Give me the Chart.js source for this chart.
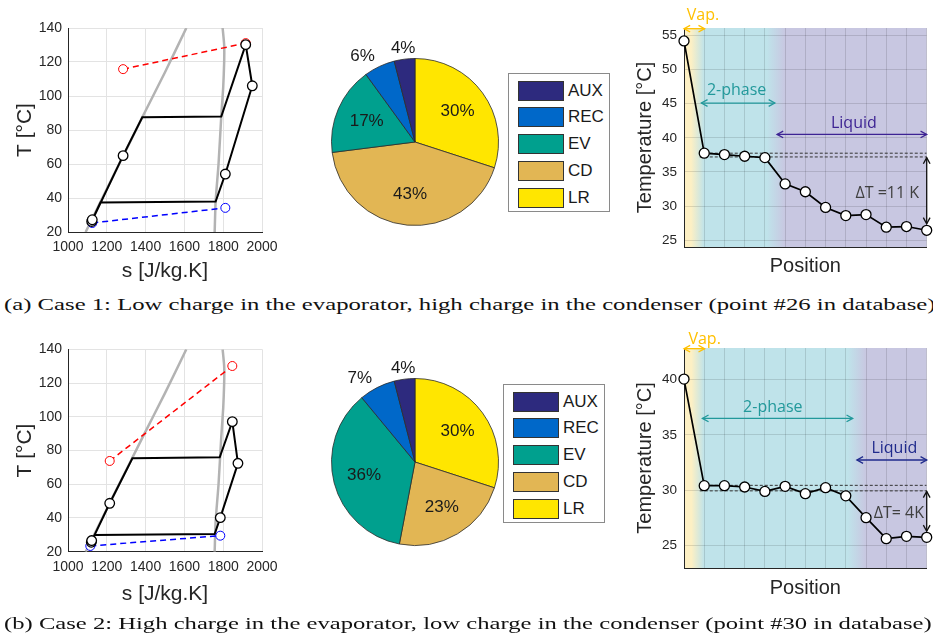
<!DOCTYPE html>
<html>
<head>
<meta charset="utf-8">
<script src="https://cdn.jsdelivr.net/npm/chart.js@4.4.1/dist/chart.umd.min.js"></script>
<style>
  body { margin: 0; background: #fff; }
  #page { position: relative; width: 933px; height: 644px; overflow: hidden; font-family: "Liberation Sans", Arial, sans-serif; color: #1a1a1a; }
  #page canvas { position: absolute; }
  .legend { position: absolute; border: 1px solid #8a8a8a; background: #fff; box-sizing: border-box; }
  .legend .sw { position: absolute; border: 1px solid #333; box-sizing: border-box; width: 46px; height: 20px; }
  .legend .lb { position: absolute; font-size: 17px; line-height: 20px; }
  .caption { position: absolute; left: 4px; font-family: "Liberation Serif", "Times New Roman", serif; font-size: 16.5px; line-height: 16.5px; white-space: nowrap; transform-origin: 0 0; color: #111; }
</style>
</head>
<body>
<div id="page">
  <canvas id="tsA" width="290" height="290" style="left:0;top:0"></canvas>
  <canvas id="pieA" width="240" height="240" style="left:295px;top:22px"></canvas>
  <canvas id="tempA" width="313" height="290" style="left:620px;top:0"></canvas>
  <div id="legA" class="legend" style="left:508px;top:73px;width:102px;height:139px"></div>
  <div id="capA" class="caption" style="top:297px">(a) Case 1: Low charge in the evaporator, high charge in the condenser (point #26 in database)</div>

  <canvas id="tsB" width="290" height="290" style="left:0;top:320px"></canvas>
  <canvas id="pieB" width="240" height="240" style="left:295px;top:342px"></canvas>
  <canvas id="tempB" width="313" height="290" style="left:620px;top:330px"></canvas>
  <div id="legB" class="legend" style="left:503px;top:384px;width:102px;height:139px"></div>
  <div id="capB" class="caption" style="top:616px">(b) Case 2: High charge in the evaporator, low charge in the condenser (point #30 in database)</div>
</div>
<script>
// saturation dome of the working fluid (same in both cases)
const satLiq_s = [1091, 1242, 1383, 1500, 1610];
const satLiq_T = [20, 55, 87.5, 114, 140];
const satVap_s = [1756, 1761, 1776, 1790, 1800, 1805, 1805, 1797];
const satVap_T = [20, 38, 60, 88, 105, 120, 130, 140];

// case 1: cycle in the T-s diagram
const cycA_s = [1125, 1284, 1383, 1790, 1916, 1950, 1811, 1761, 1167, 1125];
const cycA_T = [26.9, 64.9, 87.5, 87.9, 130.2, 106.0, 54.1, 37.9, 37.3, 26.9];
const ptsA_s = [1122, 1125, 1284, 1916, 1950, 1811];
const ptsA_T = [26.2, 27.2, 64.9, 130.2, 106.0, 54.1];
const hotA_s = [1284, 1916];
const hotA_T = [115.8, 131.1];
const coldA_s = [1125, 1811];
const coldA_T = [25.3, 34.2];

// case 2: cycle in the T-s diagram
const cycB_s = [1120, 1215, 1332, 1782, 1847, 1876, 1785, 1756, 1138, 1120];
const cycB_T = [25.8, 48.7, 75.4, 76.0, 97.1, 72.4, 40.2, 30.5, 29.9, 25.8];
const ptsB_s = [1120, 1122, 1215, 1847, 1876, 1785];
const ptsB_T = [25.6, 26.6, 48.7, 97.1, 72.4, 40.2];
const hotB_s = [1215, 1847];
const hotB_T = [73.8, 130.1];
const coldB_s = [1115, 1785];
const coldB_T = [23.4, 29.5];

// charge distribution (%)
const pieLabels = ['LR', 'CD', 'EV', 'REC', 'AUX'];
const pieColors = ['#ffe600', '#e2b654', '#00a08e', '#0068c9', '#2d2a7e'];
const pieA = [30, 43, 17, 6, 4];
const pieB = [30, 23, 36, 7, 4];
const legendOrder = ['AUX', 'REC', 'EV', 'CD', 'LR'];

// condenser temperature profile
const positions = [0, 1, 2, 3, 4, 5, 6, 7, 8, 9, 10, 11, 12];
const tempA = [54.2, 37.75, 37.55, 37.3, 37.1, 33.25, 32.1, 29.8, 28.6, 28.75, 26.9, 27.0, 26.45];
const tempB = [40.05, 30.42, 30.42, 30.3, 29.9, 30.36, 29.7, 30.24, 29.5, 27.53, 25.63, 25.84, 25.75];
const satLinesA = [37.75, 37.2];
const satLinesB = [30.45, 29.95];

// phase zones (position, colour)
const bandsA = [[0, '#fdf0c4'], [0.35, '#fdf0c4'], [1.0, '#bfe3ea'], [4.1, '#bfe3ea'], [5.0, '#c8c7e1'], [12, '#c8c7e1']];
const bandsB = [[0, '#fdf0c4'], [0.37, '#fdf0c4'], [1.0, '#bfe3ea'], [8.1, '#bfe3ea'], [9.0, '#c8c7e1'], [12, '#c8c7e1']];

const arrowsA = [
  {x1: 0, y1: 56.0, x2: 1.02, y2: 56.0, color: '#ffc000'},
  {x1: 0.86, y1: 45.1, x2: 4.49, y2: 45.1, color: '#22999b'},
  {x1: 4.6, y1: 40.5, x2: 12, y2: 40.5, color: '#3d2393'},
  {x1: 12, y1: 37.1, x2: 12, y2: 27.4, color: '#111'}
];
const notesA = [
  {text: 'Vap.', x: 0.94, y: 58.0, color: '#ffc000'},
  {text: '2-phase', x: 2.6, y: 47.0, color: '#22999b'},
  {text: 'Liquid', x: 8.4, y: 42.1, color: '#3d2393'},
  {text: '\u0394T =11 K', x: 10.05, y: 31.85, color: '#404040'}
];
const arrowsB = [
  {x1: 0, y1: 42.8, x2: 1.02, y2: 42.8, color: '#ffc000'},
  {x1: 0.91, y1: 36.5, x2: 8.34, y2: 36.5, color: '#22999b'},
  {x1: 8.55, y1: 32.74, x2: 12, y2: 32.74, color: '#1f2a8c'},
  {x1: 12, y1: 29.9, x2: 12, y2: 26.3, color: '#111'}
];
const notesB = [
  {text: 'Vap.', x: 1.02, y: 43.6, color: '#ffc000'},
  {text: '2-phase', x: 4.39, y: 37.5, color: '#22999b'},
  {text: 'Liquid', x: 10.4, y: 33.8, color: '#1f2a8c'},
  {text: '\u0394T= 4K', x: 10.62, y: 27.93, color: '#404040'}
];

Chart.defaults.font.family = '"Liberation Sans", Arial, sans-serif';
Chart.defaults.color = '#262626';

const pts = (xs, ys) => xs.map((v, i) => ({x: v, y: ys[i]}));

function tsChart(id, cyc, mk, hot, cold, lay) {
  new Chart(document.getElementById(id), {
    type: 'scatter',
    data: {
      datasets: [
        {data: pts(mk.s, mk.T), pointRadius: 4.8, pointBackgroundColor: '#fff', pointBorderColor: '#000', pointBorderWidth: 1.3},
        {data: pts(hot.s, hot.T), showLine: true, borderColor: '#ff0000', borderWidth: 1.5, borderDash: [6, 4],
          pointRadius: 4.5, pointBackgroundColor: '#fff', pointBorderColor: '#ff0000', pointBorderWidth: 1},
        {data: pts(cold.s, cold.T), showLine: true, borderColor: '#0000ff', borderWidth: 1.5, borderDash: [6, 4],
          pointRadius: 4.5, pointBackgroundColor: '#fff', pointBorderColor: '#0000ff', pointBorderWidth: 1},
        {data: pts(cyc.s, cyc.T), showLine: true, borderColor: '#000', borderWidth: 2, pointRadius: 0},
        {data: pts(satLiq_s, satLiq_T), showLine: true, borderColor: '#b3b3b3', borderWidth: 2.5, pointRadius: 0, tension: 0.2},
        {data: pts(satVap_s, satVap_T), showLine: true, borderColor: '#b3b3b3', borderWidth: 2.5, pointRadius: 0, tension: 0.2}
      ]
    },
    options: {
      responsive: false,
      animation: false,
      layout: {padding: {top: lay.top, right: 28, left: 0, bottom: 0}},
      plugins: {legend: {display: false}, tooltip: {enabled: false}},
      scales: {
        x: {
          type: 'linear', min: 1000, max: 2000,
          ticks: {stepSize: 200, autoSkip: false, maxRotation: 0, padding: 7, font: {size: 14}, callback: v => String(v)},
          grid: {color: '#e3e3e3', drawTicks: false},
          border: {color: '#262626'},
          title: {display: true, text: 's [J/kg.K]', font: {size: 21}, padding: {bottom: lay.xTitlePad, top: 0}},
          afterFit: s => { s.height = lay.xH; }
        },
        y: {
          min: 20, max: 140,
          ticks: {stepSize: 20, padding: 6, font: {size: 14}, callback: v => String(v)},
          grid: {color: '#e3e3e3', drawTicks: false},
          border: {color: '#262626'},
          title: {display: true, text: 'T [°C]', font: {size: 21}, padding: {top: 12.4, bottom: 0}},
          afterFit: s => { s.width = 68; }
        }
      }
    }
  });
}

const pieLabelPlugin = {
  id: 'pieLabels',
  afterDatasetsDraw(chart) {
    const {ctx} = chart;
    const vals = chart.data.datasets[0].data;
    ctx.save();
    ctx.font = '17px "Liberation Sans", Arial, sans-serif';
    ctx.fillStyle = '#1a1a1a';
    ctx.textBaseline = 'middle';
    chart.getDatasetMeta(0).data.forEach((arc, i) => {
      const p = arc.getProps(['x', 'y', 'startAngle', 'endAngle', 'outerRadius'], true);
      const mid = (p.startAngle + p.endAngle) / 2;
      const inside = vals[i] >= 10;
      const r = inside ? 0.63 * p.outerRadius : 1.13 * p.outerRadius;
      const cx = Math.cos(mid), cy = Math.sin(mid);
      ctx.textAlign = inside ? 'center' : (cx < -0.3 ? 'right' : 'center');
      ctx.fillText(vals[i] + '%', p.x + r * cx, p.y + r * cy);
    });
    ctx.restore();
  }
};

function pieChart(id, values) {
  new Chart(document.getElementById(id), {
    type: 'pie',
    data: {labels: pieLabels, datasets: [{data: values, backgroundColor: pieColors, borderColor: '#2b2b2b', borderWidth: 0.8, hoverOffset: 0}]},
    options: {
      responsive: false,
      animation: false,
      radius: 83.5,
      plugins: {legend: {display: false}, tooltip: {enabled: false}}
    },
    plugins: [pieLabelPlugin]
  });
}

function legend(id, swLeft, swTop, lbLeft) {
  const box = document.getElementById(id);
  legendOrder.forEach((name, i) => {
    const sw = document.createElement('div');
    sw.className = 'sw';
    sw.style.left = swLeft + 'px';
    sw.style.top = (swTop + i * 26.7) + 'px';
    sw.style.background = pieColors[pieLabels.indexOf(name)];
    const lb = document.createElement('div');
    lb.className = 'lb';
    lb.textContent = name;
    lb.style.left = lbLeft + 'px';
    lb.style.top = (swTop + i * 26.7) + 'px';
    box.appendChild(sw);
    box.appendChild(lb);
  });
}

function bandsPlugin(stops) {
  return {
    id: 'bands',
    beforeDraw(chart) {
      const {ctx, chartArea: a, scales: {x}} = chart;
      const w = a.right - a.left;
      const g = ctx.createLinearGradient(a.left, 0, a.right, 0);
      stops.forEach(([v, c]) => g.addColorStop(Math.min(1, Math.max(0, (x.getPixelForValue(v) - a.left) / w)), c));
      ctx.save();
      ctx.fillStyle = g;
      ctx.fillRect(a.left, a.top, w, a.bottom - a.top);
      ctx.restore();
    }
  };
}

function head(ctx, x, y, ang) {
  const s = 7, spread = 0.5;
  ctx.beginPath();
  ctx.moveTo(x - s * Math.cos(ang - spread), y - s * Math.sin(ang - spread));
  ctx.lineTo(x, y);
  ctx.lineTo(x - s * Math.cos(ang + spread), y - s * Math.sin(ang + spread));
  ctx.stroke();
}

function notesPlugin(arrows, texts) {
  return {
    id: 'notes',
    afterDraw(chart) {
      const {ctx, scales: {x, y}} = chart;
      ctx.save();
      ctx.lineWidth = 1.3;
      arrows.forEach(a => {
        const x1 = x.getPixelForValue(a.x1), y1 = y.getPixelForValue(a.y1);
        const x2 = x.getPixelForValue(a.x2), y2 = y.getPixelForValue(a.y2);
        ctx.strokeStyle = a.color;
        ctx.beginPath();
        ctx.moveTo(x1, y1);
        ctx.lineTo(x2, y2);
        ctx.stroke();
        const ang = Math.atan2(y2 - y1, x2 - x1);
        head(ctx, x2, y2, ang);
        head(ctx, x1, y1, ang + Math.PI);
      });
      ctx.font = '16px "Open Sans", "Liberation Sans", sans-serif';
      ctx.textAlign = 'center';
      ctx.textBaseline = 'middle';
      texts.forEach(t => {
        ctx.fillStyle = t.color;
        ctx.fillText(t.text, x.getPixelForValue(t.x), y.getPixelForValue(t.y));
      });
      ctx.restore();
    }
  };
}

function tempChart(id, temps, sat, yMin, yMax, bands, arrows, notes, lay) {
  const satSets = sat.map(v => ({
    data: [{x: 0.78, y: v}, {x: 12, y: v}], showLine: true, borderColor: '#333', borderWidth: 1,
    borderDash: [3, 2], pointRadius: 0
  }));
  new Chart(document.getElementById(id), {
    type: 'scatter',
    data: {
      datasets: [
        {data: pts(positions, temps), showLine: true, borderColor: '#000', borderWidth: 1.7, clip: 8,
          pointRadius: 5, pointBackgroundColor: '#fff', pointBorderColor: '#000', pointBorderWidth: 1.3},
        ...satSets
      ]
    },
    options: {
      responsive: false,
      animation: false,
      layout: {padding: {top: lay.top, right: 3, left: 0, bottom: 0}},
      plugins: {legend: {display: false}, tooltip: {enabled: false}},
      scales: {
        x: {
          type: 'linear', min: 0, max: 12,
          ticks: {display: false, stepSize: 1},
          grid: {color: 'rgba(0,0,0,0.12)', drawTicks: false},
          border: {color: '#262626'},
          title: {display: true, text: 'Position', font: {size: 20}, padding: {bottom: lay.xTitlePad, top: 0}},
          afterFit: s => { s.height = lay.xH; }
        },
        y: {
          min: yMin, max: yMax,
          ticks: {stepSize: 5, includeBounds: false, padding: 7, font: {size: 13.5}, callback: v => String(v)},
          grid: {color: 'rgba(0,0,0,0.12)', drawTicks: false},
          border: {color: '#262626'},
          title: {display: true, text: 'Temperature [°C]', font: {size: 20}, padding: {top: 13, bottom: 0}},
          afterFit: s => { s.width = 64; }
        }
      }
    },
    plugins: [bandsPlugin(bands), notesPlugin(arrows, notes)]
  });
}

tsChart('tsA', {s: cycA_s, T: cycA_T}, {s: ptsA_s, T: ptsA_T}, {s: hotA_s, T: hotA_T}, {s: coldA_s, T: coldA_T},
  {top: 28, xH: 58, xTitlePad: 5.7});
tsChart('tsB', {s: cycB_s, T: cycB_T}, {s: ptsB_s, T: ptsB_T}, {s: hotB_s, T: hotB_T}, {s: coldB_s, T: coldB_T},
  {top: 29.3, xH: 58.3, xTitlePad: 3.4});

pieChart('pieA', pieA);
pieChart('pieB', pieB);
legend('legA', 8.5, 6.7, 59);
legend('legB', 8.5, 6.7, 59);

tempChart('tempA', tempA, satLinesA, 24.0, 56.1, bandsA, arrowsA, notesA, {top: 28, xH: 43, xTitlePad: 11.3});
tempChart('tempB', tempB, satLinesB, 22.98, 42.86, bandsB, arrowsB, notesB, {top: 18, xH: 52, xTitlePad: 19.7});

// stretch the captions to the width they take in the figure
[['capA', 931], ['capB', 927]].forEach(([id, w]) => {
  const el = document.getElementById(id);
  el.style.transform = 'scaleX(' + (w / el.scrollWidth) + ')';
});
</script>
</body>
</html>
